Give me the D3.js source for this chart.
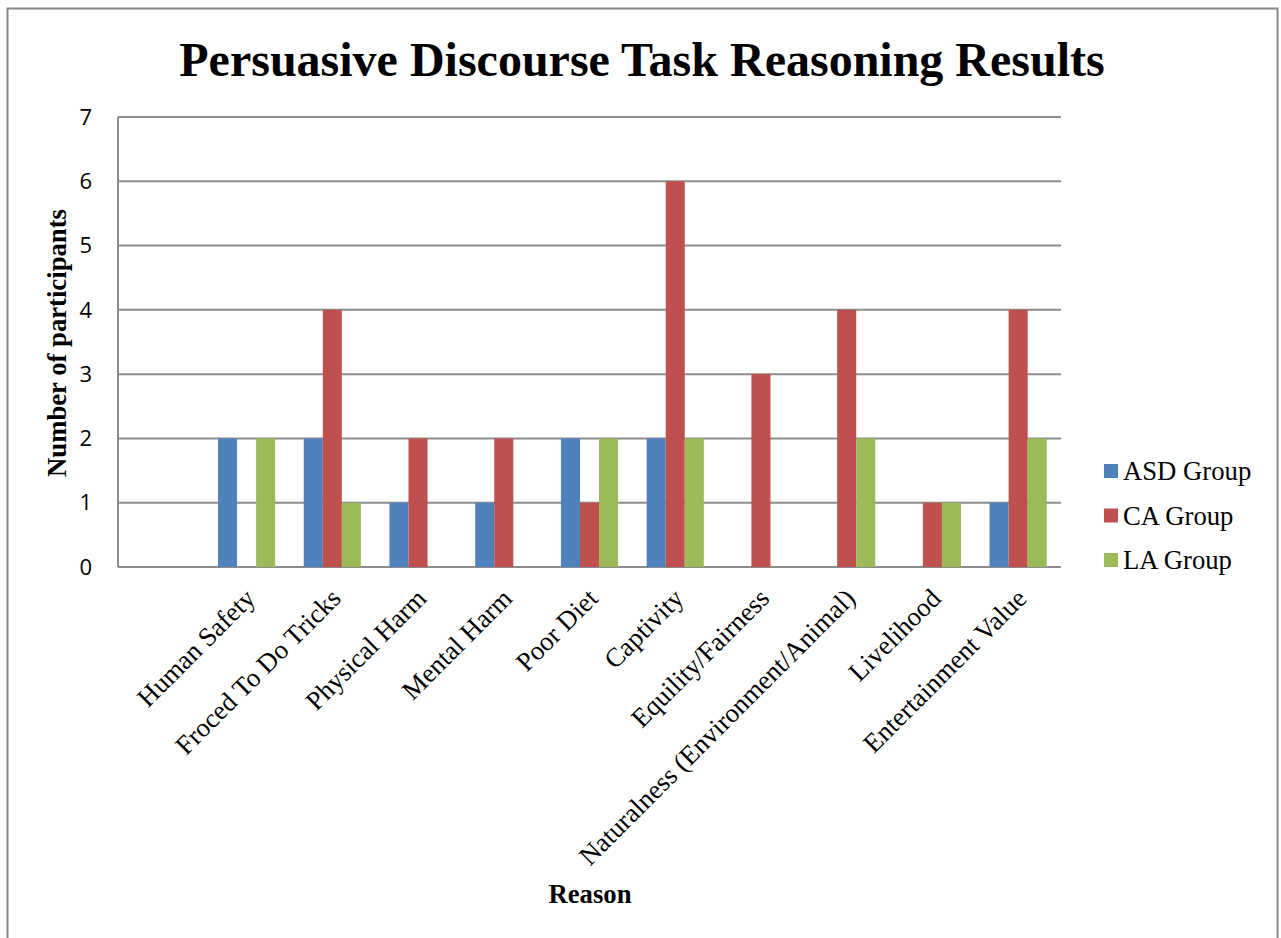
<!DOCTYPE html>
<html>
<head>
<meta charset="utf-8">
<script src="https://cdn.jsdelivr.net/npm/d3@7"></script>
<style>
    body { margin: 0; background: #fff; }
    .ytick { font-family: "Open Sans", "Noto Sans", sans-serif; font-size: 22px; fill: #000; }
    .xtick { font-family: "Liberation Serif", "Times New Roman", serif; font-size: 26.7px; fill: #000; }
    .legend text { font-family: "Liberation Serif", "Times New Roman", serif; font-size: 26.7px; fill: #000; }
    .axis-title { font-family: "Liberation Serif", "Times New Roman", serif; font-size: 26.7px; font-weight: bold; fill: #000; }
</style>
</head>
<body>
<svg id="chart"></svg>
<script>
// first category is blank in the original chart
const categories = ["", "Human Safety", "Froced To Do Tricks", "Physical Harm", "Mental Harm", "Poor Diet",
    "Captivity", "Equility/Fairness", "Naturalness (Environment/Animal)", "Livelihood", "Entertainment Value"];
const asdGroup = [0, 2, 2, 1, 1, 2, 2, 0, 0, 0, 1];
const caGroup = [0, 0, 4, 2, 2, 1, 6, 3, 4, 1, 4];
const laGroup = [0, 2, 1, 0, 0, 2, 2, 0, 2, 1, 2];
const seriesNames = ["ASD Group", "CA Group", "LA Group"];
const seriesColors = ["#4f81bd", "#c0504d", "#9bbb59"];
const yTicks = [0, 1, 2, 3, 4, 5, 6, 7];

const W = 1281, H = 938;
const plot = {left: 118, right: 1061, top: 117, bottom: 567};

const svg = d3.select("#chart")
    .attr("width", W)
    .attr("height", H);

svg.append("rect")
    .attr("x", 7.5).attr("y", 8.5)
    .attr("width", 1270).attr("height", 940)
    .style("fill", "white")
    .style("stroke", "#888")
    .style("stroke-width", "2px");

const x = d3.scaleBand()
    .domain(categories)
    .range([plot.left, plot.right]);

const xInner = d3.scaleBand()
    .domain(seriesNames)
    .range([0, x.bandwidth()])
    .paddingOuter(0.75);

const y = d3.scaleLinear()
    .domain([0, 7])
    .range([plot.bottom, plot.top]);

// gridlines
svg.append("g")
    .selectAll("line")
    .data(yTicks)
    .enter()
    .append("line")
    .attr("x1", plot.left).attr("x2", plot.right)
    .attr("y1", d => y(d)).attr("y2", d => y(d))
    .style("stroke", "#8c8c8c")
    .style("stroke-width", "2px");

// y axis line
svg.append("line")
    .attr("x1", plot.left).attr("x2", plot.left)
    .attr("y1", plot.top).attr("y2", plot.bottom)
    .style("stroke", "#8c8c8c")
    .style("stroke-width", "2px");

// y tick labels
svg.append("g")
    .selectAll("text")
    .data(yTicks)
    .enter()
    .append("text")
    .attr("class", "ytick")
    .attr("x", 92)
    .attr("y", d => y(d))
    .attr("dy", "0.35em")
    .attr("text-anchor", "end")
    .text(d => d);

// bars
const series = [asdGroup, caGroup, laGroup];
const groups = svg.append("g")
    .selectAll("g")
    .data(categories)
    .enter()
    .append("g")
    .attr("transform", d => `translate(${x(d)} 0)`);

groups.selectAll("rect")
    .data((d, i) => seriesNames.map((s, k) => ({name: s, value: series[k][i], color: seriesColors[k]})))
    .enter()
    .append("rect")
    .attr("x", d => xInner(d.name))
    .attr("width", xInner.bandwidth())
    .attr("y", d => y(d.value))
    .attr("height", d => y(0) - y(d.value))
    .style("fill", d => d.color);

// x tick labels, rotated
svg.append("g")
    .selectAll("text")
    .data(categories.filter(c => c !== ""))
    .enter()
    .append("text")
    .attr("class", "xtick")
    .attr("text-anchor", "end")
    .attr("transform", d => `translate(${x(d) + x.bandwidth() / 2 + 10} ${plot.bottom + 33}) rotate(-45)`)
    .text(d => d);

// title
svg.append("text")
    .attr("x", 642)
    .attr("y", 76)
    .attr("text-anchor", "middle")
    .style("font-family", "'Liberation Serif', 'Times New Roman', serif")
    .style("font-weight", "bold")
    .style("font-size", "48px")
    .text("Persuasive Discourse Task Reasoning Results");

// axis titles
svg.append("text")
    .attr("class", "axis-title")
    .attr("transform", "translate(66 343) rotate(-90)")
    .attr("text-anchor", "middle")
    .text("Number of participants");

svg.append("text")
    .attr("class", "axis-title")
    .attr("x", 590)
    .attr("y", 903)
    .attr("text-anchor", "middle")
    .text("Reason");

// legend
const legend = svg.append("g")
    .attr("class", "legend")
    .selectAll("g")
    .data(seriesNames)
    .enter()
    .append("g")
    .attr("transform", (d, i) => `translate(1104 ${471 + i * 44.5})`);

legend.append("rect")
    .attr("x", 0).attr("y", -7)
    .attr("width", 14).attr("height", 14)
    .style("fill", (d, i) => seriesColors[i]);

legend.append("text")
    .attr("x", 19)
    .attr("y", 0)
    .attr("dy", "0.35em")
    .text(d => d);
</script>
</body>
</html>
